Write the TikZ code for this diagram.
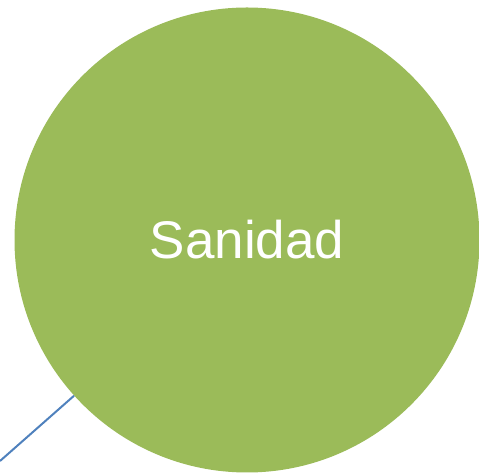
\documentclass[tikz,border=0pt]{standalone}
\usepackage{fontspec}
\setmainfont{Liberation Sans}
\usetikzlibrary{positioning}
\definecolor{sanidadgreen}{HTML}{9BBB59}
\definecolor{linkblue}{HTML}{4F81BD}

\begin{document}
\begin{tikzpicture}[
	x=1pt,y=1pt,
	mycircle/.style={circle,fill=sanidadgreen,minimum size=465pt,inner sep=0pt,text=white,font=\fontsize{53}{60}\selectfont},
	myline/.style={draw=linkblue,line width=2pt}
	]
	\useasboundingbox (0,0) rectangle (479,476);
	\node[mycircle] (sanidad) at (247,236) {Sanidad};
	\coordinate (corner) at (0,15);
	\draw[myline] (corner) -- (sanidad.222);
\end{tikzpicture}
\end{document}
